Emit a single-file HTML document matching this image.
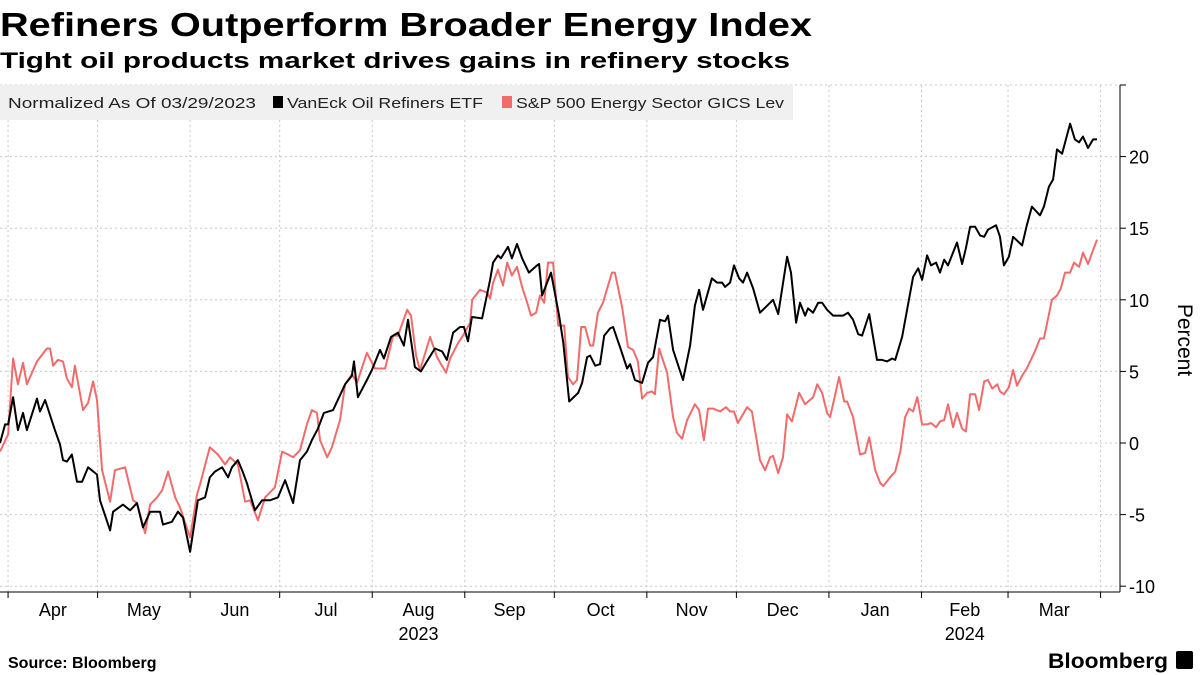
<!DOCTYPE html>
<html><head><meta charset="utf-8"><style>
html,body{margin:0;padding:0;background:#fff;}
svg{display:block;font-family:"Liberation Sans",sans-serif;}
</style></head><body>
<svg id="chart" width="1200" height="675" viewBox="0 0 1200 675" xmlns="http://www.w3.org/2000/svg">
<text x="0" y="36" font-size="33" font-weight="bold" fill="#000" textLength="812" lengthAdjust="spacingAndGlyphs">Refiners Outperform Broader Energy Index</text>
<text x="0" y="68" font-size="22" font-weight="bold" fill="#000" textLength="790" lengthAdjust="spacingAndGlyphs">Tight oil products market drives gains in refinery stocks</text>
<g id="grid"></g>
<g id="axes"></g>
<g id="series"></g>
<g>
<rect x="0" y="85" width="793" height="35" fill="#f0f0f0"/>
<text x="8" y="108" font-size="15" fill="#222" textLength="248" lengthAdjust="spacingAndGlyphs">Normalized As Of 03/29/2023</text>
<rect x="273" y="96" width="10" height="12" fill="#000"/>
<text x="287" y="108" font-size="15" fill="#222" textLength="196" lengthAdjust="spacingAndGlyphs">VanEck Oil Refiners ETF</text>
<rect x="502" y="96" width="10" height="12" fill="#f26b6b"/>
<text x="516" y="108" font-size="15" fill="#222" textLength="268" lengthAdjust="spacingAndGlyphs">S&amp;P 500 Energy Sector GICS Lev</text>
</g>
<text transform="translate(1178,340) rotate(90)" font-size="21" text-anchor="middle" fill="#000">Percent</text>
<text x="8" y="668" font-size="16" font-weight="bold" fill="#000">Source: Bloomberg</text>
<text x="1048" y="668" font-size="21" font-weight="bold" fill="#000" textLength="120" lengthAdjust="spacingAndGlyphs">Bloomberg</text>
<rect x="1176" y="651" width="17" height="18" rx="2" fill="#000"/>
</svg>
<script>
const blackDays=[0.3,2.0,3.0,4.7,6.3,8.0,9.3,12.7,13.7,15.4,18.7,20.4,21.4,22.7,24.4,26.1,27.8,29.8,32.8,33.8,37.2,38.2,41.5,43.9,46.2,48.2,50.6,53.9,54.9,57.9,59.9,61.6,64.0,66.6,69.0,70.6,72.3,74.7,76.7,78.0,80.0,81.4,83.0,85.7,88.1,90.7,93.4,95.8,98.5,100.8,103.1,104.8,106.8,108.8,111.9,115.9,118.2,118.9,120.2,123.2,124.9,127.6,128.9,131.3,133.6,135.6,137.0,139.3,141.3,143.3,146.0,148.4,150.0,152.1,154.4,155.7,157.1,158.4,161.8,164.5,165.5,167.1,168.1,170.5,171.8,173.5,175.2,177.5,180.2,180.9,181.9,184.9,187.6,189.0,191.0,194.0,195.3,197.0,198.0,199.7,201.3,202.7,204.7,205.7,208.0,210.4,211.4,213.0,215.4,217.4,219.1,221.4,223.1,224.1,225.8,229.1,231.5,233.1,234.5,235.8,238.8,240.5,242.2,243.2,244.9,246.2,247.9,249.2,250.6,252.6,254.9,259.3,261.0,264.0,265.3,267.0,268.3,270.0,271.0,272.7,274.4,275.7,277.4,279.4,282.7,284.4,286.1,287.8,289.1,291.5,294.1,295.8,297.5,299.2,300.2,302.5,306.2,307.9,309.2,310.9,312.2,313.9,315.2,316.6,317.9,320.9,322.6,323.9,325.3,327.0,328.6,330.0,331.3,334.0,335.3,336.6,338.3,339.7,342.7,344.3,346.0,348.7,350.0,351.7,353.1,354.4,356.1,358.8,360.4,361.8,363.1,364.8,366.5,367.8];
const blackVals=[0,1.3,1.3,3.2,0.9,2.1,0.9,3.1,2.2,3.0,0.9,-0.1,-1.2,-1.3,-0.8,-2.7,-2.7,-1.7,-2.2,-4.0,-6.1,-4.8,-4.3,-4.7,-4.2,-5.9,-4.8,-4.8,-5.7,-5.5,-4.8,-5.2,-7.6,-4.0,-3.8,-2.4,-2.0,-1.7,-2.4,-1.7,-1.2,-1.9,-2.8,-4.7,-4.0,-4.0,-3.8,-2.6,-4.2,-1.2,-0.6,0.2,1.0,2.1,2.3,4.1,4.7,5.7,3.2,4.4,5.1,6.5,5.9,7.4,7.7,6.8,8.6,5.3,5.0,5.7,6.6,6.4,5.8,7.7,8.1,8.1,7.1,8.8,8.7,11.4,12.6,13.1,12.9,13.7,12.9,13.9,12.9,11.9,12.4,12.5,10.3,11.9,8.9,7.0,2.9,3.5,4.2,6.0,6.1,5.4,5.5,7.5,8.0,8.1,6.7,5.2,5.5,4.4,4.2,5.6,6.0,8.6,8.5,8.9,6.5,4.4,6.8,9.6,10.7,9.3,11.5,11.2,11.2,10.9,11.2,12.4,11.5,11.2,11.9,10.8,9.1,10.0,9.0,13.0,11.9,8.4,9.8,8.9,9.4,9.1,9.8,9.8,9.3,8.9,8.9,9.1,8.6,7.6,7.5,9.0,5.8,5.8,5.7,5.9,5.8,7.4,11.6,12.2,11.4,13.1,12.4,12.6,11.9,12.8,12.4,14.0,12.5,13.6,15.1,15.1,14.5,14.4,14.9,15.2,14.4,12.4,13.0,14.4,13.8,15.2,16.5,15.9,16.5,17.9,18.4,20.5,20.2,22.3,21.2,21.0,21.4,20.6,21.2,21.2];
const redDays=[0.3,3.0,4.7,6.3,8.0,9.3,12.7,16.0,17.1,18.1,19.7,21.4,22.7,24.4,25.4,28.1,29.8,31.5,32.8,34.5,37.2,38.8,42.2,44.9,46.2,48.9,50.6,52.9,54.6,56.6,59.0,60.6,64.0,66.3,67.3,70.6,73.3,75.7,77.4,80.0,82.4,84.1,86.7,89.1,92.4,94.8,96.8,98.5,100.8,103.1,104.8,106.5,107.5,109.9,111.5,114.2,115.9,118.2,119.9,123.2,125.9,129.3,132.0,133.6,136.7,138.0,139.7,141.0,144.4,146.7,149.7,151.1,153.8,155.4,157.8,158.5,161.1,163.5,164.5,165.5,167.1,168.8,170.2,171.8,173.5,175.2,176.9,178.2,179.9,181.2,182.6,183.9,185.6,187.3,189.3,190.6,192.3,193.6,195.0,196.3,198.0,199.0,200.6,202.3,205.3,206.3,208.7,210.7,212.4,214.0,215.4,217.1,218.7,219.7,221.1,223.8,225.8,227.1,228.8,230.5,233.1,234.5,236.1,237.5,239.2,241.5,243.5,244.9,246.2,247.5,250.6,252.2,254.9,256.6,258.3,259.3,261.0,262.6,264.0,265.6,268.0,270.0,272.7,274.1,275.7,277.4,278.4,281.4,283.1,284.1,286.1,288.4,290.1,291.5,293.5,295.2,296.2,298.5,300.2,301.9,303.5,304.9,306.2,307.6,309.2,310.9,312.2,313.9,315.2,316.6,317.9,319.6,320.9,322.6,323.9,325.3,327.0,328.3,330.0,331.3,332.7,334.4,335.3,336.6,338.3,339.7,341.0,342.7,344.3,347.0,348.7,350.0,352.7,354.4,355.7,357.1,358.8,360.1,361.8,363.1,364.8,367.8];
const redVals=[-0.6,0.6,5.9,4.1,5.6,4.1,5.7,6.6,6.6,5.4,5.8,5.7,4.5,3.9,5.4,2.3,2.8,4.3,3.0,-1.9,-4.1,-1.9,-1.7,-4.0,-4.2,-6.3,-4.3,-3.8,-3.3,-2.0,-3.8,-4.5,-6.6,-3.6,-2.9,-0.3,-0.8,-1.5,-1.0,-1.5,-4.1,-4.0,-5.4,-3.8,-3.1,-0.6,-0.8,-1.0,-0.5,1.3,2.3,2.1,0.2,-1.0,-0.3,1.6,4.1,4.8,4.2,6.3,5.2,5.2,7.5,7.5,9.3,8.9,6.1,5.1,7.4,6.0,4.9,5.9,7.0,7.5,8.4,10.0,10.7,10.5,10.1,11.2,12.1,11.0,12.6,11.7,12.3,10.9,9.8,8.9,9.1,10.3,9.8,12.6,12.6,8.2,8.2,4.6,4.1,4.4,8.1,8.1,6.8,6.8,9.1,9.8,11.9,11.9,9.5,6.7,6.5,5.7,3.1,3.5,3.6,3.4,6.6,4.9,1.8,0.7,0.3,1.6,2.7,2.3,0.2,2.4,2.4,2.2,2.5,2.2,2.2,1.4,2.5,2.2,-1.2,-1.9,-1.0,-0.9,-2.1,-1.0,2.0,1.5,3.5,2.7,3.2,4.1,3.5,2.1,1.8,4.6,2.9,2.9,1.8,-0.8,-0.7,0.4,-1.9,-2.8,-3.0,-2.4,-2.0,-0.6,1.8,2.4,2.2,3.2,1.3,1.3,1.4,1.1,1.5,1.6,2.7,1.1,2.1,1.0,0.8,3.4,3.4,2.3,4.3,4.4,3.8,4.1,3.6,3.4,3.9,5.1,4.0,4.7,5.2,6.4,7.3,7.3,10.0,10.3,10.8,11.9,11.9,12.6,12.3,13.3,12.5,14.2];
const yTicks=[-10,-5,0,5,10,15,20,25];
const yTickLabels=["-10","-5","0","5","10","15","20",""];
const monthStarts=[3,33,64,94,125,156,186,217,247,278,309,338,369];
const monthLabels=["Apr","May","Jun","Jul","Aug","Sep","Oct","Nov","Dec","Jan","Feb","Mar"];
const yearLabels=["2023","2024"];
const yearMonthIndex=[4,10];

const NS="http://www.w3.org/2000/svg";
const PLOT_RIGHT=1120, AXIS_BOTTOM=592;
function xScale(d){return (d-0.3)*2.985;}
function yScale(v){return 443-v*14.32;}
function mk(tag,attrs,parent){const e=document.createElementNS(NS,tag);for(const k in attrs)e.setAttribute(k,attrs[k]);parent.appendChild(e);return e;}
const grid=document.getElementById('grid'),axes=document.getElementById('axes'),series=document.getElementById('series');

yTicks.forEach((t,i)=>{
  const y=yScale(t);
  const g=mk('line',{x1:0,x2:PLOT_RIGHT,y1:y,y2:y,stroke:'#c8c8c8','stroke-width':1,'stroke-dasharray':'2,3'},grid);
  
  
  const tk=mk('line',{x1:PLOT_RIGHT,x2:PLOT_RIGHT+6,y1:y,y2:y,stroke:'#000','stroke-width':1},axes);
  
  
  if(yTickLabels[i]){
    const tx=mk('text',{x:PLOT_RIGHT+9,y:y+7,'font-size':18,fill:'#000'},axes);
    tx.textContent=yTickLabels[i];
    
    
  }
});
monthStarts.forEach((d,i)=>{
  const x=xScale(d);
  const g=mk('line',{x1:x,x2:x,y1:yScale(25),y2:AXIS_BOTTOM,stroke:'#c8c8c8','stroke-width':1,'stroke-dasharray':'2,3'},grid);
  
  
  const tk=mk('line',{x1:x,x2:x,y1:AXIS_BOTTOM,y2:AXIS_BOTTOM+6,stroke:'#000','stroke-width':1},axes);
  
  
  if(i<monthLabels.length){
    const mx=(xScale(d)+xScale(monthStarts[i+1]))/2;
    const tx=mk('text',{x:mx,y:616,'font-size':18,'text-anchor':'middle',fill:'#000'},axes);
    tx.textContent=monthLabels[i];
    
    
  }
});
yearLabels.forEach((yl,i)=>{
  const m=yearMonthIndex[i];
  const mx=(xScale(monthStarts[m])+xScale(monthStarts[m+1]))/2;
  const tx=mk('text',{x:mx,y:640,'font-size':18,'text-anchor':'middle',fill:'#000'},axes);
  tx.textContent=yl;
  
  
});
const ax1=mk('line',{x1:0,x2:PLOT_RIGHT,y1:AXIS_BOTTOM,y2:AXIS_BOTTOM,stroke:'#000','stroke-width':1},axes);


const ax2=mk('line',{x1:PLOT_RIGHT,x2:PLOT_RIGHT,y1:yScale(25),y2:AXIS_BOTTOM,stroke:'#000','stroke-width':1},axes);



function pathFor(days,vals){return days.map((d,i)=>(i?'L':'M')+xScale(d).toFixed(1)+','+yScale(vals[i]).toFixed(1)).join(' ');}
const red=mk('path',{d:pathFor(redDays,redVals),fill:'none',stroke:'#f26b6b','stroke-width':2,'stroke-linejoin':'round'},series);


const blk=mk('path',{d:pathFor(blackDays,blackVals),fill:'none',stroke:'#000','stroke-width':2,'stroke-linejoin':'round'},series);


</script>
</body></html>
